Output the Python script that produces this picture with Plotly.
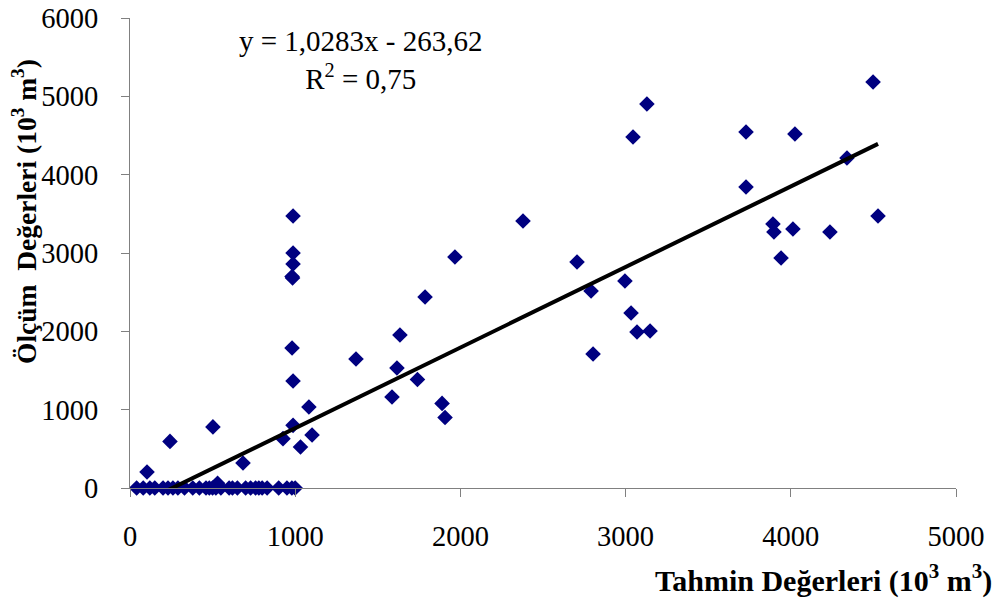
import plotly.graph_objects as go

# Scatter data: predicted (x) vs measured (y), 10^3 m^3
pred = [103, 242, 502, 684, 926, 987, 1032, 1102, 981, 987, 1083, 1368, 1634, 1616,
        1586, 1740, 1786, 1967, 1889, 1907, 987, 987, 987, 981, 984, 2379, 2706, 2791,
        2996, 3033, 3069, 3148, 2803, 3045, 3129, 4498, 3729, 4025, 4340, 3729, 4528,
        3892, 3898, 4013, 4237, 3941, 530,
        40, 80, 120, 150, 200, 230, 260, 290, 330, 380, 420, 460, 480, 500, 520, 550,
        600, 620, 650, 700, 730, 760, 780, 800, 830, 900, 950, 980, 1000]
meas = [204, 595, 780, 320, 630, 800, 523, 677, 1787, 1366, 1034, 1647, 1953, 1532,
        1162, 1385, 2438, 2949, 1080, 900, 3472, 3000, 2860, 2700, 2680, 3409, 2885, 2515,
        2643, 2234, 1992, 2004, 1711, 4481, 4902, 5183, 4545, 4519, 4213, 3843, 3472,
        3370, 3268, 3307, 3268, 2936, 60,
        0, 0, 0, 0, 0, 0, 0, 0, 0, 0, 0, 0, 0, 0, 0, 0,
        0, 0, 0, 0, 0, 0, 0, 0, 0, 0, 0, 0, 0]

slope = 1.0283
intercept = -263.62
trend_x = [min(pred), max(pred)]
trend_y = [slope * v + intercept for v in trend_x]

x_ticks = [0, 1000, 2000, 3000, 4000, 5000]
y_ticks = [0, 1000, 2000, 3000, 4000, 5000, 6000]

FONT = "Liberation Serif, Times New Roman, serif"

fig = go.Figure()
fig.add_trace(go.Scatter(x=pred, y=meas, mode="markers",
                         marker=dict(symbol="diamond", size=12, color="#000080",
                                     line=dict(width=0)),
                         cliponaxis=False, showlegend=False))
fig.add_trace(go.Scatter(x=trend_x, y=trend_y, mode="lines",
                         line=dict(color="black", width=4), showlegend=False))

axis_common = dict(showgrid=False, zeroline=False, showline=True, linecolor="#808080",
                   linewidth=1, ticks="outside", ticklen=8, tickcolor="#808080",
                   automargin=False,
                   tickfont=dict(family=FONT, size=28.5, color="black"))
fig.update_xaxes(range=[0, 5000], tickvals=x_ticks, ticklabelstandoff=15, **axis_common)
fig.update_yaxes(range=[0, 6000], tickvals=y_ticks, ticklabelstandoff=17, **axis_common)

fig.add_annotation(text="y = 1,0283x - 263,62<br>R<sup>2</sup> = 0,75", xref="paper", yref="paper",
                   x=(361 - 130) / 826, y=(488 - 60) / 470, showarrow=False,
                   xanchor="center", yanchor="middle",
                   font=dict(family=FONT, size=29, color="black"), align="center")
fig.add_annotation(text="<b>Tahmin Değerleri (10<sup>3</sup> m<sup>3</sup>)</b>", xref="paper", yref="paper",
                   x=(823 - 130) / 826, y=(488 - 578) / 470, showarrow=False,
                   xanchor="center", yanchor="middle",
                   font=dict(family=FONT, size=30, color="black"))
fig.add_annotation(text="<b>Ölçüm  Değerleri (10<sup>3</sup> m<sup>3</sup>)</b>", xref="paper", yref="paper",
                   x=(24 - 130) / 826, y=(488 - 212) / 470, showarrow=False, textangle=-90,
                   xanchor="center", yanchor="middle",
                   font=dict(family=FONT, size=27.5, color="black"))

fig.update_layout(width=994, height=601, margin=dict(l=130, r=38, t=18, b=113),
                  paper_bgcolor="white", plot_bgcolor="white")

fig.write_html("out.html")
